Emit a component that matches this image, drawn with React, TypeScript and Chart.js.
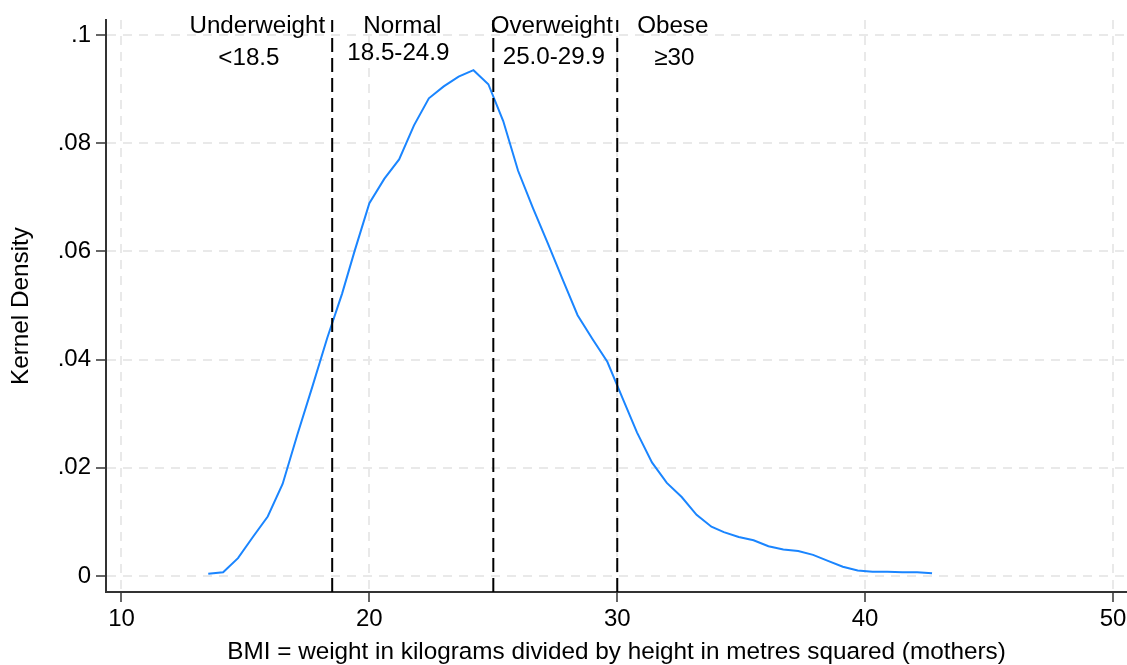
import React, { useEffect, useRef } from "react";
import { Chart, registerables } from "chart.js";

Chart.register(...registerables);

// BMI grid points (x) and kernel density estimates (y)
const bmiValues = [
  13.5, 14.1, 14.7, 15.3, 15.9, 16.5, 17.1, 17.7, 18.3, 18.9,
  19.4, 20.0, 20.6, 21.2, 21.8, 22.4, 23.0, 23.6, 24.2, 24.8,
  25.4, 26.0, 26.6, 27.2, 27.8, 28.4, 29.0, 29.6, 30.2, 30.8,
  31.4, 32.0, 32.6, 33.2, 33.8, 34.3, 34.9, 35.5, 36.1, 36.7,
  37.3, 37.9, 38.5, 39.1, 39.7, 40.3, 40.9, 41.5, 42.1, 42.7,
];
const densityValues = [
  0.0004, 0.0007, 0.0033, 0.0072, 0.011, 0.017, 0.0262, 0.035, 0.044, 0.0522,
  0.06, 0.0689, 0.0734, 0.077, 0.0833, 0.0883, 0.0905, 0.0923, 0.0935, 0.0909,
  0.0841, 0.0749, 0.068, 0.0615, 0.0548, 0.0482, 0.0438, 0.0396, 0.033, 0.0265,
  0.021, 0.0172, 0.0146, 0.0113, 0.0091, 0.0081, 0.0072, 0.0066, 0.0055, 0.0049,
  0.0046, 0.0039, 0.0028, 0.0017, 0.001, 0.0008, 0.0008, 0.0007, 0.0007, 0.0005,
];

const cutoffs = [18.5, 25, 30];
const xTickValues = [10, 20, 30, 40, 50];
const yTickValues = [0, 0.02, 0.04, 0.06, 0.08, 0.1];

const categoryLabels = ["Underweight", "Normal", "Overweight", "Obese"];
const rangeLabels = ["<18.5", "18.5-24.9", "25.0-29.9", "≥30"];
const categoryLabelX = [15.48, 21.33, 27.36, 32.24];
const rangeLabelX = [15.14, 21.17, 27.44, 32.3];
const categoryLabelY = [0.1003, 0.1003, 0.1003, 0.1003];
const rangeLabelY = [0.0944, 0.0954, 0.0946, 0.0945];

const X_MIN = 9.3747;
const X_MAX = 50.565;
const Y_MIN = -0.00296;
const Y_MAX = 0.10277;

const FONT = "'Liberation Sans', Arial, Helvetica, sans-serif";

const labelPlugin = {
  id: "bmiLabels",
  afterDatasetsDraw(chart: any) {
    const { ctx, scales } = chart;
    const xs = scales.x;
    const ys = scales.y;
    ctx.save();
    ctx.fillStyle = "#000";
    ctx.font = `24.2px ${FONT}`;
    ctx.textAlign = "center";
    ctx.textBaseline = "alphabetic";
    categoryLabels.forEach((t, i) => {
      ctx.fillText(t, xs.getPixelForValue(categoryLabelX[i]), ys.getPixelForValue(categoryLabelY[i]));
    });
    rangeLabels.forEach((t, i) => {
      ctx.fillText(t, xs.getPixelForValue(rangeLabelX[i]), ys.getPixelForValue(rangeLabelY[i]));
    });
    ctx.restore();
  },
};

export default function App() {
  const canvasRef = useRef<HTMLCanvasElement | null>(null);

  useEffect(() => {
    document.body.style.margin = "0";
    const canvas = canvasRef.current;
    if (!canvas) return;

    const curve = bmiValues.map((x, i) => ({ x, y: densityValues[i] }));
    const cutoffSets = cutoffs.map((c) => ({
      type: "line" as const,
      data: [
        { x: c, y: Y_MIN },
        { x: c, y: Y_MAX },
      ],
      borderColor: "#000000",
      borderWidth: 2,
      borderDash: [14, 6],
      pointRadius: 0,
      fill: false,
      tension: 0,
    }));

    const chart = new Chart(canvas, {
      type: "line",
      data: {
        datasets: [
          ...cutoffSets,
          {
            data: curve,
            borderColor: "#1a85ff",
            borderWidth: 2,
            pointRadius: 0,
            fill: false,
            tension: 0,
          },
        ] as any,
      },
      options: {
        responsive: false,
        animation: false,
        devicePixelRatio: 1,
        layout: { padding: { left: 0, right: 0, top: 20, bottom: 0 } },
        plugins: {
          legend: { display: false },
          tooltip: { enabled: false },
        },
        scales: {
          x: {
            type: "linear",
            min: X_MIN,
            max: X_MAX,
            afterBuildTicks: (scale: any) => {
              scale.ticks = xTickValues.map((v) => ({ value: v }));
            },
            afterFit: (scale: any) => {
              scale.height = 73;
              scale.paddingRight = 0;
              scale.paddingLeft = 0;
            },
            ticks: {
              color: "#000",
              font: { family: FONT, size: 24 },
              padding: 3,
              maxRotation: 0,
              autoSkip: false,
              callback: (v: any) => String(v),
            },
            grid: {
              color: "#e9e9e9",
              lineWidth: 2,
              tickLength: 10,
              tickColor: "#333333",
              tickWidth: 1.5,
              tickBorderDash: [],
            } as any,
            border: { display: true, color: "#333333", width: 2, dash: [9, 7] },
            title: {
              display: true,
              text: "BMI = weight in kilograms divided by height in metres squared (mothers)",
              color: "#000",
              font: { family: FONT, size: 24.3, lineHeight: 1.05 },
              padding: { top: 0, bottom: 0 },
            },
          },
          y: {
            type: "linear",
            min: Y_MIN,
            max: Y_MAX,
            afterBuildTicks: (scale: any) => {
              scale.ticks = yTickValues.map((v) => ({ value: v }));
            },
            afterFit: (scale: any) => {
              scale.width = 106;
              scale.paddingTop = 0;
              scale.paddingBottom = 0;
            },
            ticks: {
              color: "#000",
              font: { family: FONT, size: 24 },
              padding: 5,
              autoSkip: false,
              callback: (v: any) => (v === 0 ? "0" : String(v).replace(/^0/, "")),
            },
            grid: {
              color: "#e9e9e9",
              lineWidth: 2,
              tickLength: 10,
              tickColor: "#333333",
              tickWidth: 1.5,
              tickBorderDash: [],
            } as any,
            border: { display: true, color: "#333333", width: 2, dash: [9, 7] },
            title: {
              display: true,
              text: "Kernel Density",
              color: "#000",
              font: { family: FONT, size: 24.3, lineHeight: 1.05 },
              padding: { top: 9, bottom: 0 },
            },
          },
        },
      } as any,
      plugins: [labelPlugin],
    });

    return () => {
      chart.destroy();
    };
  }, []);

  return (
    <div style={{ width: 1127, height: 665, position: "relative" }}>
      <canvas ref={canvasRef} width={1127} height={665} style={{ display: "block" }} />
    </div>
  );
}
